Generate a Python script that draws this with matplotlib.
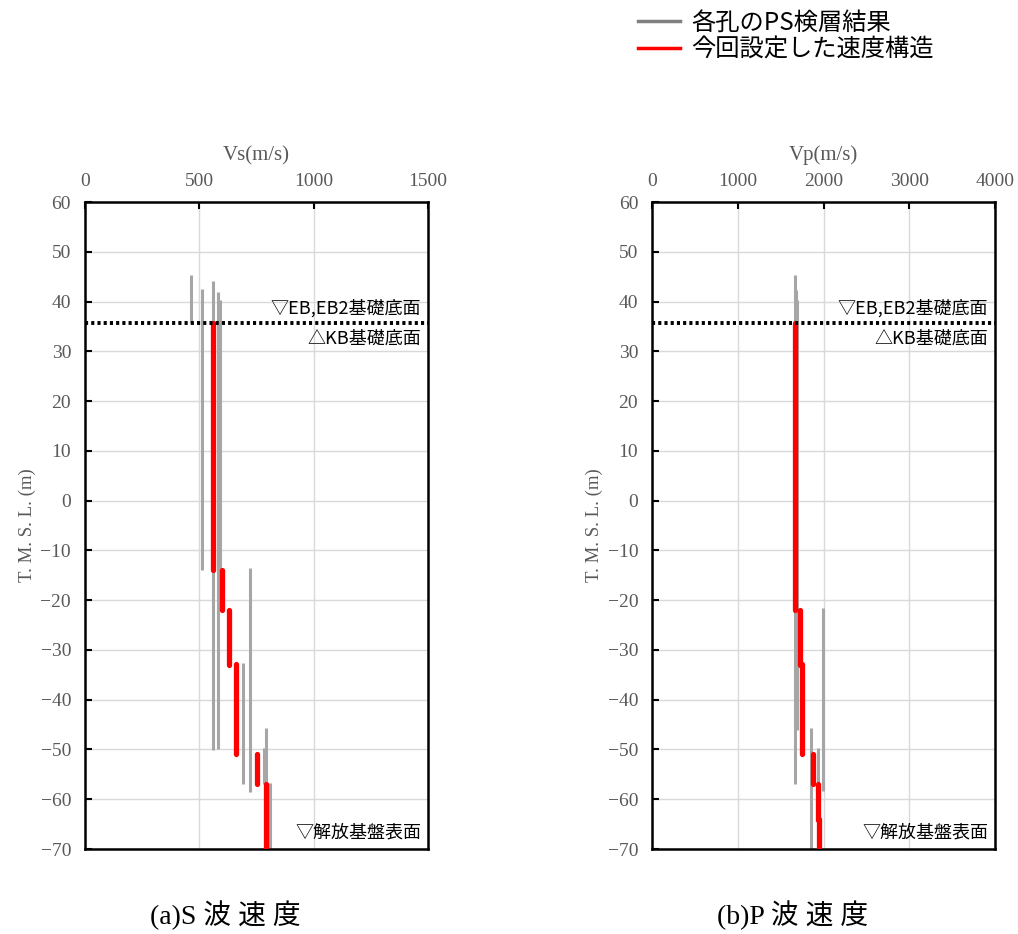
import numpy as np
import matplotlib.pyplot as plt
from matplotlib.lines import Line2D

# layer data (velocity, top, bottom)
vs_gray_v   = [462, 511, 561, 580, 590, 691, 721, 790, 783, 809]
vs_gray_top = [45.3, 42.5, 44.1, 42.0, 40.4, -32.7, -13.6, -45.6, -49.8, -56.8]
vs_gray_bot = [35.6, -14.0, -50.2, -50.0, -14.0, -57.0, -58.5, -70, -57.0, -70]

vs_red_v   = [561, 600, 631, 660, 751, 790]
vs_red_top = [35.6, -13.9, -21.9, -32.9, -50.9, -56.9]
vs_red_bot = [-14.0, -22.0, -33.0, -51.0, -57.0, -70]

vp_gray_v   = [1664, 1680, 1690, 1850, 1932, 1998]
vp_gray_top = [45.3, 42.3, 40.4, -45.6, -49.8, -21.6]
vp_gray_bot = [-57.0, -22.0, -46.0, -70, -58.1, -58.3]

vp_red_v   = [1662, 1726, 1746, 1874, 1932, 1944]
vp_red_top = [35.6, -21.9, -32.9, -50.9, -56.9, -64.0]
vp_red_bot = [-22.0, -33.0, -51.0, -57.0, -64.2, -70]

base_level = 35.6
serif = ['Liberation Serif', 'Noto Sans CJK JP']
sans = ['Noto Sans CJK JP', 'DejaVu Sans']
tick_col = '#595959'

fig = plt.figure(figsize=(10.18, 9.34), dpi=100)


def panel(rect, gv, gt, gb, rv, rt, rb, xmax, xstep, xlabel, caption):
    ax = fig.add_axes(rect)
    ax.set_xlim(0, xmax)
    ax.set_ylim(-70, 60)
    ax.set_xticks(np.arange(0, xmax + 1, xstep))
    yt = np.arange(-70, 61, 10)
    ax.set_yticks(yt)
    ax.set_yticklabels([str(v).replace('-', '\u2212') for v in yt])
    ax.xaxis.tick_top()
    ax.xaxis.set_label_position('top')
    ax.grid(True, color='#d9d9d9', lw=1.0)
    ax.set_axisbelow(True)
    for s in ax.spines.values():
        s.set_linewidth(1.8)
        s.set_color('black')
    ax.tick_params(direction='in', length=5, width=1.5, colors='black',
                   labelcolor=tick_col, labelsize=14, pad=10)
    ax.tick_params(axis='x', pad=9)
    for lab in ax.get_xticklabels() + ax.get_yticklabels():
        lab.set_family(serif)
    ax.set_xlabel(xlabel + '(m/s)', family=serif,
                  fontsize=15, color=tick_col, labelpad=9)
    ax.set_ylabel('T. M. S. L. (m)', family=serif, fontsize=13.5, color=tick_col,
                  labelpad=3)

    for v, t, b in zip(gv, gt, gb):
        ax.plot([v, v], [t, b], color='#a6a6a6', lw=2.2, solid_capstyle='butt', zorder=2)
    for v, t, b in zip(rv, rt, rb):
        ax.plot([v, v], [t, b], color='red', lw=3.8, solid_capstyle='round', zorder=3)

    ax.axhline(base_level, color='black', lw=2.8, ls=(0, (0.8, 0.8)), zorder=4)
    ytr = ax.get_yaxis_transform()
    ax.text(0.98, 38.6, '▽EB,EB2基礎底面', transform=ytr,
            ha='right', va='center', fontsize=13, family=sans)
    ax.text(0.98, 32.6, '△KB基礎底面', transform=ytr,
            ha='right', va='center', fontsize=13, family=sans)
    ax.text(0.98, -66.6, '▽解放基盤表面', transform=ytr,
            ha='right', va='center', fontsize=13, family=sans)

    fig.text(rect[0] + rect[2] * 0.41, 0.02, caption, ha='center', va='center',
             fontsize=20, family=serif)
    return ax


panel([0.0835, 0.091, 0.337, 0.6927], vs_gray_v, vs_gray_top, vs_gray_bot,
      vs_red_v, vs_red_top, vs_red_bot, 1500, 500, 'Vs', '(a)S 波 速 度')
panel([0.6405, 0.091, 0.337, 0.6927], vp_gray_v, vp_gray_top, vp_gray_bot,
      vp_red_v, vp_red_top, vp_red_bot, 4000, 1000, 'Vp', '(b)P 波 速 度')

handles = [Line2D([], [], color='#808080', lw=2.5),
           Line2D([], [], color='red', lw=2.5)]
fig.legend(handles, ['各孔のPS検層結果', '今回設定した速度構造'],
           loc='upper left', bbox_to_anchor=(0.605, 1.013), frameon=False,
           prop={'family': sans, 'size': 17.5}, handlelength=1.75,
           handletextpad=0.45, labelspacing=0.05)

fig.savefig('out.png', dpi=100)
